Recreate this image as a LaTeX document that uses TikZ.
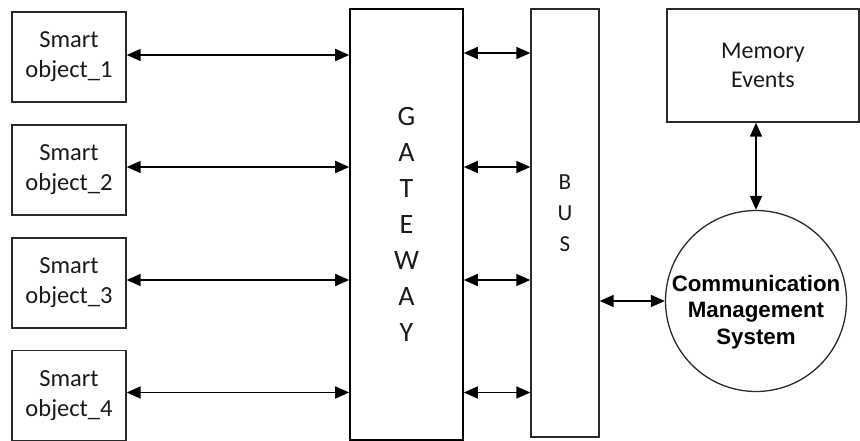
\documentclass[tikz,border=0pt]{standalone}
\usepackage{fontspec}
\setmainfont{Carlito}
\newfontfamily\arialfont{Liberation Sans}
\usetikzlibrary{arrows.meta}
\definecolor{ink}{HTML}{1A1A1A}
\definecolor{edge}{HTML}{2A2A2A}
\tikzset{
  objbox/.style={draw=edge, line width=1.3pt, rectangle, inner sep=0pt, minimum width=114pt, minimum height=90pt, align=center, text=ink, font=\fontsize{24.5}{30}\selectfont},
  tallbox/.style={draw=black, line width=1.6pt, rectangle, inner sep=0pt, align=center, text=ink},
  biarrow/.style={{Triangle[length=14pt,width=12pt]}-{Triangle[length=14pt,width=12pt]}, line width=1.5pt, draw=black}
}
\begin{document}
\begin{tikzpicture}[x=1pt,y=-1pt]
\useasboundingbox (0,0) rectangle (860,441);
% smart objects
\node[objbox] (s1) at (69,57) {Smart\\object\_1};
\node[objbox] (s2) at (69,170) {Smart\\object\_2};
\node[objbox] (s3) at (69,283) {Smart\\object\_3};
\node[objbox] (s4) at (69,395.5) {Smart\\object\_4};
% gateway
\node[tallbox, minimum width=113pt, minimum height=431pt, font=\fontsize{28}{36}\selectfont] (gw) at (406.5,224.5) {G\\A\\T\\E\\W\\A\\Y};
% bus
\node[tallbox, draw=edge, line width=1.4pt, minimum width=68pt, minimum height=428pt,
  label={[text=ink, align=center, font=\fontsize{23}{31}\selectfont, yshift=10pt]center:B\\U\\S}] (bus) at (565,223) {};
% memory
\node[draw=edge, line width=1.4pt, rectangle, inner sep=0pt, minimum width=192pt, minimum height=113pt, align=center, text=ink, font=\fontsize{24}{29.5}\selectfont] (mem) at (763,65.5) {Memory\\Events};
% communication management system
\node[draw=edge, line width=1.3pt, circle, inner sep=0pt, minimum size=181pt,
  label={[align=center, text=black, font=\arialfont\bfseries\fontsize{22.3}{26.5}\selectfont, yshift=-11pt]center:Communication\\Management\\System}] (cms) at (756,301) {};
% connectors smart objects to gateway
\draw[biarrow] ([yshift=2pt]s1.east) -- ([yshift=2pt]s1.east -| gw.west);
\draw[biarrow] ([yshift=3pt]s2.east) -- ([yshift=3pt]s2.east -| gw.west);
\draw[biarrow] ([yshift=3pt]s3.east) -- ([yshift=3pt]s3.east -| gw.west);
\draw[biarrow] ([yshift=3pt]s4.east) -- ([yshift=3pt]s4.east -| gw.west);
% gateway to bus
\draw[biarrow] ([yshift=4pt]gw.east |- s1.east) -- ([yshift=4pt]bus.west |- s1.east);
\draw[biarrow] ([yshift=3pt]gw.east |- s2.east) -- ([yshift=3pt]bus.west |- s2.east);
\draw[biarrow] ([yshift=3pt]gw.east |- s3.east) -- ([yshift=3pt]bus.west |- s3.east);
\draw[biarrow] ([yshift=3pt]gw.east |- s4.east) -- ([yshift=3pt]bus.west |- s4.east);
% bus to cms
\draw[biarrow] (bus.east |- cms.west) -- (cms.west);
% memory to cms
\draw[biarrow] (cms.north |- mem.south) -- (cms.north);
\end{tikzpicture}
\end{document}
